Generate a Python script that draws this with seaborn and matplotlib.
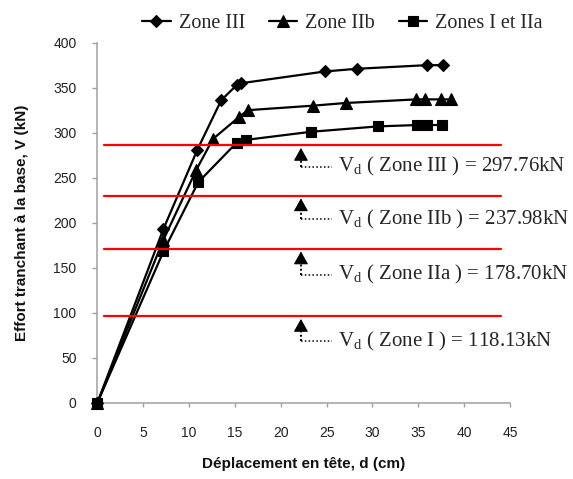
import matplotlib
matplotlib.use("Agg")
import matplotlib.pyplot as plt
import seaborn as sns
import pandas as pd

# ---- data ----
zone3_x = [0, 7.2, 10.9, 13.5, 15.2, 15.7, 24.8, 28.3, 35.9, 37.7]
zone3_y = [0, 193, 281, 336, 353, 355, 368, 371, 375, 375]

zone2b_x = [0, 7.2, 10.8, 12.6, 15.4, 16.4, 23.5, 27.1, 34.8, 35.7, 37.5, 38.6]
zone2b_y = [0, 181, 259, 293, 317, 325, 330, 333, 337, 337, 337, 337]

zone1_x = [0, 7.2, 11.0, 15.2, 16.2, 23.3, 30.6, 34.9, 35.9, 37.6]
zone1_y = [0, 168, 245, 289, 292, 301, 307, 308.5, 308.5, 308.5]

series_names = ["Zone III", "Zone IIb", "Zones I et IIa"]

# red reference lines (as drawn) and their annotation texts
ref_levels = [286, 230, 171, 96]
ref_labels = [
    r"V$_{\mathregular{d}}$ ( Zone III ) = 297.76kN",
    r"V$_{\mathregular{d}}$ ( Zone IIb ) = 237.98kN",
    r"V$_{\mathregular{d}}$ ( Zone IIa ) = 178.70kN",
    r"V$_{\mathregular{d}}$ ( Zone I ) = 118.13kN",
]
label_y = [262, 204, 142, 68]

x_ticks = [0, 5, 10, 15, 20, 25, 30, 35, 40, 45]
y_ticks = [0, 50, 100, 150, 200, 250, 300, 350, 400]

frames = []
for name, xs, ys in zip(series_names, [zone3_x, zone2b_x, zone1_x],
                        [zone3_y, zone2b_y, zone1_y]):
    frames.append(pd.DataFrame({"d": xs, "V": ys, "zone": name}))
df = pd.concat(frames, ignore_index=True)

sns.set_theme(style="white")
plt.rcParams["mathtext.default"] = "regular"

fig = plt.figure(figsize=(5.73, 4.79), dpi=100)
ax = fig.add_axes([0.170, 0.1593, 0.720, 0.7516])

markers = {"Zone III": "D", "Zone IIb": "^", "Zones I et IIa": "s"}
palette = {n: "black" for n in series_names}
sns.lineplot(data=df, x="d", y="V", hue="zone", style="zone",
             markers=markers, dashes=False, palette=palette,
             sort=False, estimator=None, ax=ax, linewidth=1.6,
             markeredgecolor="black", markeredgewidth=0.8,
             markersize=8, clip_on=False, zorder=3)

for line in ax.get_lines():
    m = line.get_marker()
    if m == "D":
        line.set_markersize(6.5)
    elif m == "^":
        line.set_markersize(8.5)
    elif m == "s":
        line.set_markersize(7.5)

for lvl in ref_levels:
    ax.plot([0.7, 44], [lvl, lvl], color="red", linewidth=1.6, zorder=4,
            clip_on=False)

arrow_x = 22.2
text_x = 26.2
for lvl, lab, ly in zip(ref_levels, ref_labels, label_y):
    tip = lvl - 3
    base = tip - 11
    # solid arrow head
    ax.annotate("", xy=(arrow_x, tip), xytext=(arrow_x, base),
                arrowprops=dict(arrowstyle="-|>,head_length=0.8,head_width=0.45",
                                color="black", lw=0.8, shrinkA=0, shrinkB=0,
                                mutation_scale=10), zorder=5)
    # dotted stem and leader
    ax.plot([arrow_x, arrow_x], [ly, base + 2], color="black",
            linestyle=(0, (1, 1.2)), lw=1.4, zorder=5)
    ax.plot([arrow_x, text_x - 0.6], [ly, ly], color="black",
            linestyle=(0, (1, 1.5)), lw=1.1, zorder=5)
    ax.text(text_x, ly, lab, fontsize=15, family="Liberation Serif",
            va="center", ha="left", zorder=5)

ax.set_xlim(0, 45)
ax.set_ylim(0, 400)
ax.set_xticks(x_ticks)
ax.set_yticks(y_ticks)
for s in ["top", "right"]:
    ax.spines[s].set_visible(False)
for s in ["left", "bottom"]:
    ax.spines[s].set_color("#a0a0a0")
    ax.spines[s].set_linewidth(1.1)
ax.tick_params(axis="x", direction="out", length=3, width=1, color="#a0a0a0",
               pad=14, labelsize=10, labelcolor="#222222", bottom=True)
ax.tick_params(axis="y", direction="out", length=3.6, width=1, color="#a0a0a0",
               pad=11.5, labelsize=10, labelcolor="#222222", left=True)
for lab in ax.get_xticklabels() + ax.get_yticklabels():
    lab.set_family("Liberation Sans")

ax.set_xlabel("Déplacement en tête, d (cm)", fontsize=11, fontweight="bold",
              family="Liberation Sans", color="#111111")
ax.set_ylabel("Effort tranchant à la base, V (kN)", fontsize=11,
              fontweight="bold", family="Liberation Sans", color="#111111")
ax.xaxis.set_label_coords(0.5, -0.152)
ax.yaxis.set_label_coords(-0.166, 0.5)

handles, labels = ax.get_legend_handles_labels()
ax.get_legend().remove()
fig.legend(handles, labels, loc="center", bbox_to_anchor=(0.598, 0.95),
           ncol=3, frameon=False, prop={"family": "Liberation Serif", "size": 14.5},
           handlelength=1.4, handletextpad=0.4, columnspacing=1.2)

fig.savefig("out.png", dpi=100)
